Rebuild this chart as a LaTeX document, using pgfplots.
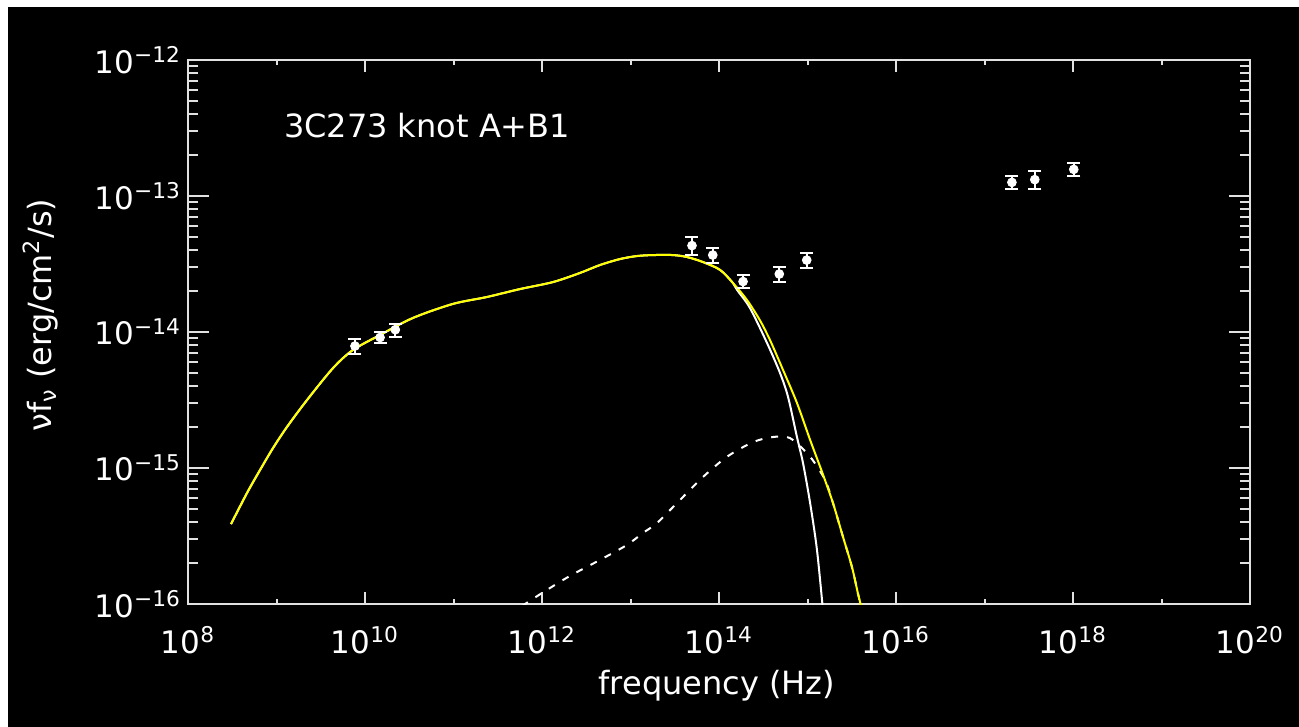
\documentclass[border=0pt]{standalone}
\usepackage{fontspec}
\setmainfont{DejaVu Sans}
\usepackage{pgfplots}
\pgfplotsset{compat=1.18}
\definecolor{fityellow}{RGB}{255,255,0}
\definecolor{axisgray}{RGB}{225,225,225}

\begin{document}
\begin{tikzpicture}
% page frame: 1px = 0.5pt, axis box at pixels (188..1250, 60..604)
\path[use as bounding box] (-94pt,-61.5pt) rectangle (555.5pt,302pt);
\fill[white] (-94pt,-61.5pt) rectangle (555.5pt,302pt);
\fill[black] (-90pt,-61.5pt) rectangle (555.5pt,298.5pt);
\begin{axis}[
    at={(0,0)}, anchor=south west,
    scale only axis, width=531pt, height=272pt,
    xmode=log, ymode=log,
    xmin=1e8, xmax=1e20, ymin=1e-16, ymax=1e-12,
    xtick={1e8,1e10,1e12,1e14,1e16,1e18,1e20},
    xticklabels={10\textsuperscript{8},10\textsuperscript{10},10\textsuperscript{12},10\textsuperscript{14},10\textsuperscript{16},10\textsuperscript{18},10\textsuperscript{20}},
    minor xtick={1e9,1e11,1e13,1e15,1e17,1e19},
    ytick={1e-16,1e-15,1e-14,1e-13,1e-12},
    yticklabels={10\textsuperscript{−16},10\textsuperscript{−15},10\textsuperscript{−14},10\textsuperscript{−13},10\textsuperscript{−12}},
    axis line style={axisgray, line width=1.2pt},
    every tick/.style={axisgray, line width=1pt},
    xtick style={/pgfplots/major tick length=6pt, /pgfplots/minor tick length=2.5pt},
    ytick style={/pgfplots/major tick length=10.5pt, /pgfplots/minor tick length=5pt},
    tick label style={white, font=\fontsize{15.5}{18}\selectfont},
    xticklabel style={anchor=base, yshift=-24.5pt},
    yticklabel style={anchor=east},
    xlabel={frequency (Hz)},
    xlabel style={at={(axis description cs:0.498,-0.167)}, anchor=base, white, font=\fontsize{16}{19}\selectfont},
    ylabel={ν{}f\textsubscript{ν} (erg/cm\textsuperscript{2}/s)},
    ylabel style={at={(axis description cs:-0.139,0.531)}, anchor=center, white, font=\fontsize{16}{19}\selectfont},
]

% synchrotron component (white, mostly hidden under the total)
\addplot[white, line width=1pt, smooth] coordinates {
    (3.06e8,3.87e-16) (4.64e8,6.55e-16) (6.51e8,9.66e-16) (9.12e8,1.40e-15)
    (1.31e9,2.0e-15) (2.21e9,3.16e-15) (4.35e9,5.43e-15) (7.31e9,7.38e-15)
    (1.48e10,9.51e-15) (3.49e10,1.27e-14) (9.87e10,1.61e-14) (2.39e11,1.81e-14)
    (5.64e11,2.07e-14) (1.33e12,2.33e-14) (2.69e12,2.72e-14) (4.52e12,3.11e-14)
    (7.60e12,3.44e-14) (1.18e13,3.62e-14) (1.79e13,3.68e-14) (3.02e13,3.68e-14)
    (4.35e13,3.56e-14) (6.59e13,3.27e-14) (1.03e14,2.86e-14) (1.44e14,2.29e-14)
    (1.60e14,2.04e-14) (2.24e14,1.50e-14) (3.49e14,8.30e-15) (4.89e14,5.00e-15)
    (6.03e14,3.33e-15) (7.60e14,1.69e-15) (8.89e14,1.09e-15) (1.07e15,5.53e-16)
    (1.28e15,2.49e-16) (1.50e15,8.8e-17)
};

% second component (dashed)
\addplot[white, line width=1pt, smooth, dash pattern=on 3.5pt off 4.5pt] coordinates {
    (5.94e11,9.66e-17) (1.03e12,1.22e-16) (2.07e12,1.61e-16) (4.52e12,2.11e-16)
    (9.12e12,2.72e-16) (1.38e13,3.33e-16) (1.99e13,3.94e-16) (3.62e13,5.82e-16)
    (6.59e13,8.59e-16) (1.23e14,1.21e-15) (2.42e14,1.55e-15) (4.07e14,1.69e-15)
    (6.34e14,1.66e-15) (1.07e15,1.21e-15) (1.58e15,8.16e-16) (1.94e15,5.53e-16)
    (2.52e15,3.11e-16) (3.18e15,1.87e-16) (3.72e15,1.19e-16) (4.03e15,9.66e-17)
};

% total model (yellow)
\addplot[fityellow, line width=1pt, smooth] coordinates {
    (3.06e8,3.87e-16) (4.64e8,6.55e-16) (6.51e8,9.66e-16) (9.12e8,1.40e-15)
    (1.31e9,2.0e-15) (2.21e9,3.16e-15) (4.35e9,5.43e-15) (7.31e9,7.38e-15)
    (1.48e10,9.51e-15) (3.49e10,1.27e-14) (9.87e10,1.61e-14) (2.39e11,1.81e-14)
    (5.64e11,2.07e-14) (1.33e12,2.33e-14) (2.69e12,2.72e-14) (4.52e12,3.11e-14)
    (7.60e12,3.44e-14) (1.18e13,3.62e-14) (1.79e13,3.68e-14) (3.02e13,3.68e-14)
    (4.35e13,3.56e-14) (6.59e13,3.27e-14) (1.03e14,2.86e-14) (1.44e14,2.29e-14)
    (2.07e14,1.72e-14) (2.90e14,1.22e-14) (3.77e14,8.73e-15) (5.29e14,5.26e-15)
    (7.60e14,3.01e-15) (1.07e15,1.61e-15) (1.46e15,9.35e-16) (1.94e15,5.53e-16)
    (2.52e15,3.11e-16) (3.18e15,1.87e-16) (3.72e15,1.19e-16) (4.03e15,9.66e-17)
};

% measured fluxes with relative errors
\addplot[only marks, mark=*, mark size=2.2pt, white, mark options={fill=white, draw=white},
    error bars/.cd, y dir=both, y explicit relative,
    error bar style={white, line width=1pt},
    error mark options={rotate=90, white, mark size=3.25pt, line width=1pt}]
coordinates {
    (7.7e9,7.89e-15) +- (0,0.12)
    (1.48e10,9.12e-15) +- (0,0.09)
    (2.2e10,1.04e-14) +- (0,0.11)
    (4.95e13,4.32e-14) +- (0,0.15)
    (8.5e13,3.68e-14) +- (0,0.12)
    (1.87e14,2.35e-14) +- (0,0.11)
    (4.8e14,2.67e-14) +- (0,0.12)
    (9.8e14,3.38e-14) +- (0,0.12)
    (2.04e17,1.26e-13) +- (0,0.11)
    (3.7e17,1.32e-13) +- (0,0.15)
    (1.02e18,1.57e-13) +- (0,0.11)
};

\node[white, anchor=base west, font=\fontsize{16}{19}\selectfont] at (axis description cs:0.0838,0.858) {3C273 knot A+B1};
\end{axis}
\end{tikzpicture}
\end{document}
